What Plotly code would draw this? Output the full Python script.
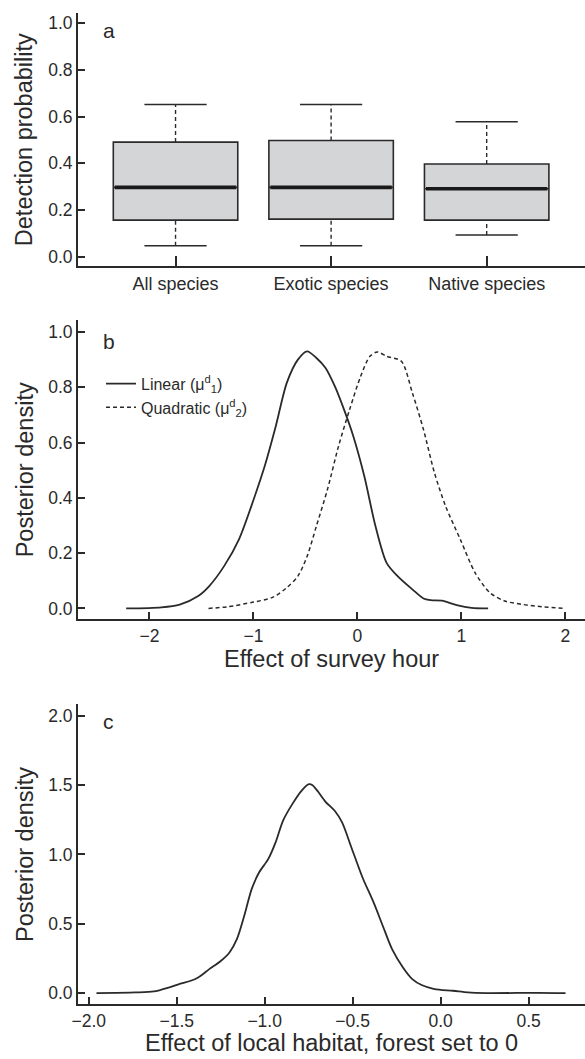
import plotly.graph_objects as go

# ---------------- data ----------------
categories = ["All species", "Exotic species", "Native species"]
cat_pos = [1, 2, 3]
q1 = [0.157, 0.161, 0.157]
median = [0.297, 0.297, 0.291]
q3 = [0.491, 0.498, 0.397]
whisker_low = [0.047, 0.047, 0.093]
whisker_high = [0.652, 0.652, 0.578]

lin_x = [-2.224, -1.886, -1.709, -1.531, -1.425, -1.282, -1.140, -0.998, -0.892, -0.785,
         -0.679, -0.572, -0.483, -0.394, -0.306, -0.217, -0.128, -0.039, 0.067, 0.174,
         0.281, 0.387, 0.529, 0.636, 0.707, 0.813, 0.956, 1.098, 1.258]
lin_y = [0.000, 0.004, 0.014, 0.045, 0.081, 0.153, 0.249, 0.394, 0.514, 0.659,
         0.816, 0.900, 0.930, 0.906, 0.870, 0.804, 0.719, 0.623, 0.478, 0.298,
         0.165, 0.117, 0.069, 0.036, 0.030, 0.028, 0.012, 0.002, 0.000]

quad_x = [-1.432, -1.247, -0.998, -0.821, -0.679, -0.572, -0.483, -0.394, -0.288, -0.181,
          -0.075, 0.032, 0.121, 0.192, 0.281, 0.423, 0.529, 0.636, 0.742, 0.849,
          0.991, 1.133, 1.275, 1.417, 1.595, 1.773, 1.993]
quad_y = [0.000, 0.006, 0.023, 0.039, 0.075, 0.117, 0.189, 0.298, 0.430, 0.587,
          0.719, 0.840, 0.912, 0.928, 0.912, 0.894, 0.780, 0.647, 0.490, 0.370,
          0.249, 0.129, 0.057, 0.027, 0.014, 0.006, 0.000]

hab_x = [-1.956, -1.735, -1.630, -1.546, -1.483, -1.420, -1.378, -1.315, -1.253, -1.200,
         -1.158, -1.116, -1.074, -1.032, -0.980, -0.938, -0.896, -0.843, -0.791, -0.749,
         -0.728, -0.696, -0.654, -0.602, -0.560, -0.507, -0.444, -0.381, -0.329, -0.276,
         -0.214, -0.161, -0.108, -0.035, 0.070, 0.154, 0.259, 0.553, 0.710]
hab_y = [0.000, 0.005, 0.012, 0.040, 0.067, 0.089, 0.113, 0.173, 0.228, 0.293,
         0.389, 0.558, 0.750, 0.870, 0.966, 1.087, 1.243, 1.363, 1.459, 1.507,
         1.500, 1.452, 1.380, 1.315, 1.231, 1.050, 0.834, 0.654, 0.486, 0.317,
         0.185, 0.101, 0.058, 0.029, 0.017, 0.005, 0.000, 0.002, 0.000]

# ---------------- style ----------------
FONT = "Liberation Sans, Arial, Helvetica, sans-serif"
INK = "#2a2a2a"
BOX_FILL = "#d4d5d7"
BOX_W = 0.8
CAP_W = 0.4

fig = go.Figure()

# ---- panel a: boxes ----
fig.add_trace(go.Box(
    x=cat_pos, q1=q1, median=median, q3=q3,
    lowerfence=q1, upperfence=q3,
    width=BOX_W, fillcolor=BOX_FILL,
    line=dict(color=INK, width=1.6),
    showlegend=False, hoverinfo="skip",
    xaxis="x", yaxis="y",
))
for i, p in enumerate(cat_pos):
    fig.add_trace(go.Scatter(x=[p, p], y=[q3[i], whisker_high[i]], mode="lines",
                             line=dict(color=INK, width=1.4, dash="4px,3px"),
                             showlegend=False, hoverinfo="skip", xaxis="x", yaxis="y"))
    fig.add_trace(go.Scatter(x=[p, p], y=[whisker_low[i], q1[i]], mode="lines",
                             line=dict(color=INK, width=1.4, dash="4px,3px"),
                             showlegend=False, hoverinfo="skip", xaxis="x", yaxis="y"))
    fig.add_trace(go.Scatter(x=[p - CAP_W / 2, p + CAP_W / 2], y=[whisker_high[i]] * 2,
                             mode="lines", line=dict(color=INK, width=1.6),
                             showlegend=False, hoverinfo="skip", xaxis="x", yaxis="y"))
    fig.add_trace(go.Scatter(x=[p - CAP_W / 2, p + CAP_W / 2], y=[whisker_low[i]] * 2,
                             mode="lines", line=dict(color=INK, width=1.6),
                             showlegend=False, hoverinfo="skip", xaxis="x", yaxis="y"))
    fig.add_trace(go.Scatter(x=[p - BOX_W / 2 + 0.01, p + BOX_W / 2 - 0.01], y=[median[i]] * 2,
                             mode="lines", line=dict(color="#1a1a1a", width=3.6),
                             showlegend=False, hoverinfo="skip", xaxis="x", yaxis="y"))

# ---- panel b ----
fig.add_trace(go.Scatter(x=lin_x, y=lin_y, mode="lines",
                         line=dict(color=INK, width=1.8, shape="spline", smoothing=0.8),
                         name="Linear (μ<sup>d</sup><sub>1</sub>)",
                         xaxis="x2", yaxis="y2"))
fig.add_trace(go.Scatter(x=quad_x, y=quad_y, mode="lines",
                         line=dict(color=INK, width=1.5, dash="4px,3px", shape="spline", smoothing=0.8),
                         name="Quadratic (μ<sup>d</sup><sub>2</sub>)",
                         xaxis="x2", yaxis="y2"))

# ---- panel c ----
fig.add_trace(go.Scatter(x=hab_x, y=hab_y, mode="lines",
                         line=dict(color=INK, width=1.8, shape="spline", smoothing=0.8),
                         showlegend=False, xaxis="x3", yaxis="y3"))

W, H = 585, 1059
XL = 72.5 / W
XMID = (XL + 1) / 2

def ax_common(**kw):
    d = dict(showline=True, linecolor=INK, linewidth=1.5, ticks="inside", ticklen=7,
             tickwidth=1.5, tickcolor=INK, showgrid=False, zeroline=False,
             tickfont=dict(family=FONT, size=17.5, color=INK))
    d.update(kw)
    return d

TITLE_FONT = dict(family=FONT, size=23.5, color=INK)
LABEL_FONT = dict(family=FONT, size=21, color=INK)

def ann(text, x, y, xanchor="center", yanchor="middle", angle=0, font=TITLE_FONT):
    return dict(text=text, x=x, y=y, xref="paper", yref="paper", xanchor=xanchor,
                yanchor=yanchor, textangle=angle, showarrow=False, font=font)

fig.update_layout(
    width=W, height=H,
    margin=dict(l=0, r=0, t=0, b=0),
    paper_bgcolor="white", plot_bgcolor="white",
    font=dict(family=FONT, color=INK),
    xaxis=ax_common(domain=[XL, 1], anchor="y", range=[0.3715, 3.632],
                    tickvals=cat_pos, ticktext=categories, ticklen=10,
                    tickfont=dict(family=FONT, size=18, color=INK)),
    yaxis=ax_common(domain=[1 - 266.5 / H, 1 - 13 / H], anchor="x", range=[-0.0407, 1.044],
                    tickvals=[0, 0.2, 0.4, 0.6, 0.8, 1.0], tickformat=".1f"),
    xaxis2=ax_common(domain=[XL, 1], anchor="y2", range=[-2.690, 2.19],
                     tickvals=[-2, -1, 0, 1, 2]),
    yaxis2=ax_common(domain=[1 - 619.5 / H, 1 - 320.7 / H], anchor="x2", range=[-0.038, 1.042],
                     tickvals=[0, 0.2, 0.4, 0.6, 0.8, 1.0], tickformat=".1f"),
    xaxis3=ax_common(domain=[XL, 1], anchor="y3", range=[-2.0624, 0.8206],
                     tickvals=[-2.0, -1.5, -1.0, -0.5, 0.0, 0.5], tickformat=".1f"),
    yaxis3=ax_common(domain=[1 - 1005 / H, 1 - 705 / H], anchor="x3", range=[-0.079, 2.083],
                     tickvals=[0, 0.5, 1.0, 1.5, 2.0], tickformat=".1f"),
    legend=dict(x=96 / W, xanchor="left", y=1 - 367 / H, yanchor="top",
                bgcolor="rgba(0,0,0,0)", borderwidth=0,
                font=dict(family=FONT, size=16, color=INK), tracegroupgap=0),
    annotations=[
        ann("a", 96 / W, 1 - 31 / H, xanchor="left", font=LABEL_FONT),
        ann("b", 96 / W, 1 - 342 / H, xanchor="left", font=LABEL_FONT),
        ann("c", 96 / W, 1 - 722 / H, xanchor="left", font=LABEL_FONT),
        ann("Detection probability", 19 / W, 1 - 139.5 / H, angle=-90),
        ann("Posterior density", 19 / W, 1 - 470 / H, angle=-90),
        ann("Posterior density", 19 / W, 1 - 855 / H, angle=-90),
        ann("Effect of survey hour", XMID, 1 - 660 / H),
        ann("Effect of local habitat, forest set to 0", XMID, 1 - 1044 / H),
    ],
)

fig.write_html(
    "out.html",
    config={"displayModeBar": False},
    post_script="document.body.style.margin='0';document.body.style.padding='0';"
                "document.body.style.overflow='hidden';",
)
